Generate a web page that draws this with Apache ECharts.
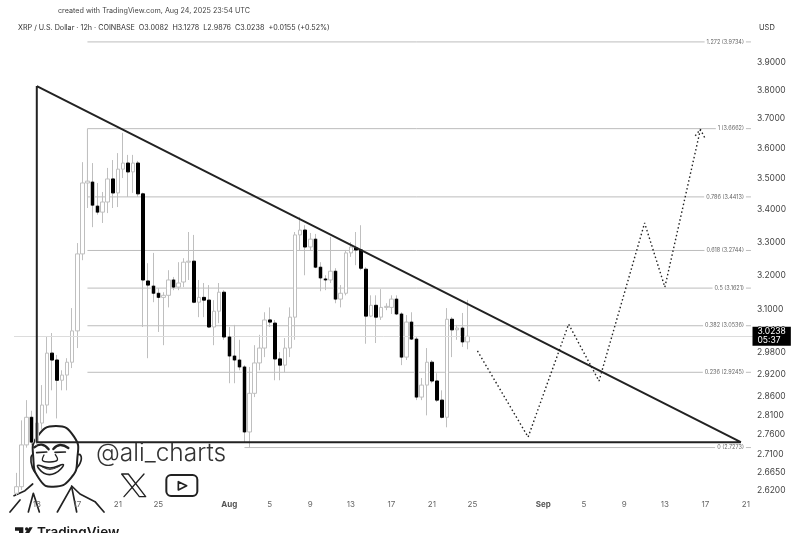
<!DOCTYPE html>
<html><head><meta charset="utf-8">
<style>html,body{margin:0;padding:0;background:#fff;overflow:hidden}#c{width:800px;height:533px}</style>
<script src="https://cdn.jsdelivr.net/npm/echarts@6/dist/echarts.min.js"></script>
</head><body><div id="c"></div>
<script>
// 12h candles from Jul 11 2025: [open, close, low, high]
const candles = [
[2.614,2.630,2.608,2.664],[2.630,2.734,2.622,2.797],[2.734,2.805,2.727,2.850],[2.805,2.741,2.733,2.822],
[2.741,2.790,2.733,2.850],[2.790,2.837,2.772,2.890],[2.837,2.977,2.815,3.022],[2.977,2.958,2.876,3.033],
[2.958,2.903,2.802,2.972],[2.903,2.917,2.876,2.930],[2.917,2.952,2.876,2.963],[2.952,3.039,2.936,3.104],
[3.039,3.264,2.991,3.297],[3.264,3.486,3.245,3.554],[3.486,3.492,3.406,3.554],[3.489,3.415,3.346,3.551],
[3.412,3.393,3.385,3.486],[3.393,3.425,3.359,3.457],[3.425,3.499,3.390,3.535],[3.499,3.454,3.406,3.561],
[3.454,3.531,3.409,3.584],[3.531,3.551,3.502,3.652],[3.551,3.522,3.441,3.578],[3.522,3.551,3.454,3.578],
[3.551,3.451,3.441,3.558],[3.451,3.186,3.050,3.455],[3.183,3.171,2.963,3.236],[3.168,3.147,3.121,3.267],
[3.147,3.135,3.036,3.162],[3.135,3.141,2.999,3.150],[3.141,3.186,3.106,3.215],[3.186,3.165,3.156,3.195],
[3.165,3.177,3.156,3.239],[3.180,3.239,3.165,3.251],[3.239,3.242,3.186,3.331],[3.242,3.121,3.118,3.322],
[3.121,3.135,3.078,3.186],[3.135,3.127,3.078,3.177],[3.127,3.050,3.047,3.171],[3.050,3.095,2.999,3.127],
[3.095,3.150,3.061,3.177],[3.150,3.022,3.014,3.156],[3.022,2.969,2.895,3.050],[2.969,2.958,2.895,3.056],
[2.958,2.939,2.930,3.014],[2.939,2.767,2.741,2.944],[2.767,2.868,2.728,2.939],[2.868,2.950,2.858,2.999],
[2.950,2.991,2.930,3.028],[2.991,3.070,2.966,3.092],[3.070,3.064,3.050,3.106],[3.061,2.961,2.903,3.070],
[2.961,2.944,2.903,2.980],[2.944,2.991,2.925,3.019],[2.991,3.078,2.966,3.106],[3.078,3.322,3.014,3.331],
[3.322,3.337,3.276,3.378],[3.337,3.285,3.200,3.352],[3.285,3.309,3.276,3.328],[3.309,3.224,3.221,3.325],
[3.224,3.192,3.153,3.239],[3.189,3.186,3.156,3.200],[3.186,3.212,3.177,3.316],[3.212,3.130,3.118,3.221],
[3.130,3.147,3.106,3.171],[3.147,3.267,3.141,3.276],[3.267,3.285,3.255,3.300],[3.282,3.276,3.230,3.331],
[3.276,3.221,3.215,3.352],[3.218,3.081,3.003,3.224],[3.081,3.112,3.078,3.141],[3.112,3.078,3.005,3.141],
[3.078,3.106,3.070,3.159],[3.106,3.109,3.098,3.118],[3.106,3.130,3.087,3.141],[3.130,3.087,3.084,3.141],
[3.087,2.966,2.944,3.092],[2.966,3.064,2.958,3.084],[3.064,3.016,3.014,3.092],[3.016,2.858,2.850,3.022],
[2.858,2.890,2.850,2.909],[2.890,2.952,2.810,2.991],[2.952,2.901,2.895,2.958],[2.901,2.850,2.845,2.922],
[2.850,2.805,2.802,2.876],[2.805,3.072,2.779,3.104],[3.072,3.042,2.966,3.078],[3.042,3.047,3.014,3.056],
[3.047,3.008,2.994,3.090],[3.0082,3.0238,2.9876,3.1278]
];
const barCount = 146;
const tickIndex = [4,12,20,28,42,50,58,66,74,82,90,104,112,120,128,136,144];
const tickLabels = ['13','17','21','25','Aug','5','9','13','17','21','25','Sep','5','9','13','17','21'];
const priceTicks = [3.9,3.8,3.7,3.6,3.5,3.4,3.3,3.2,3.1,3.04,2.98,2.92,2.86,2.81,2.76,2.71,2.665,2.62];
const fibValues = [3.9734,3.6662,3.4413,3.2744,3.1621,3.0536,2.9245,2.7273];
const fibLabels = ['1.272 (3.9734)','1 (3.6662)','0.786 (3.4413)','0.618 (3.2744)','0.5 (3.1621)','0.382 (3.0536)','0.236 (2.9245)','0 (2.7273)'];
const fibStart = [14,14,14,14,14,14,14,45];
const trianglePts = [[4,3.814],[4,2.741],[143,2.741],[4,3.814]];
const forecastPts = [[91,2.983],[101,2.754],[109,3.058],[115,2.901],[124,3.359],[128,3.165],[135,3.662]];
const arrowPts = [[134,3.642],[135,3.664],[136,3.631]];
const lastPrice = 3.0238;
const countdown = '05:37';

const categories = [];
for (let i = 0; i < barCount; i++) {
  categories.push(new Date(Date.UTC(2025, 6, 11, i * 12)).toISOString().slice(0, 13));
}
const tickMap = {};
tickIndex.forEach((ix, k) => { tickMap[categories[ix]] = tickLabels[k]; });
const FONT = 'Inter, Roboto, sans-serif';
const lineS = (o) => Object.assign({type:'line',symbol:'none',silent:true,animation:false,z:5}, o);

const downOnly = candles.map(c => c[1] < c[0] ? [c[0], c[1], c[1], c[0]] : ['-','-','-','-']);

const fibSeries = fibValues.map((v, k) => ({
  type:'line', silent:true, animation:false, z:3, symbol:'circle', symbolSize:0, showSymbol:true, showAllSymbol:true,
  lineStyle:{color:'#bdbdbd',width:1},
  data:[
    [fibStart[k], v],
    {value:[144, v], label:{show:true, position:'left', distance:0, formatter:fibLabels[k],
      fontFamily:FONT, fontSize:5.5, color:'#666', backgroundColor:'#fff', padding:[1,2]}},
    [145, v]
  ]
}));

const g = (type, shape, style, extra) => Object.assign({type, shape, style}, extra || {});
const ink = '#222';
const st = (lw, fill) => ({stroke:ink, lineWidth:lw, fill:fill || 'none', lineJoin:'round', lineCap:'round'});

const option = {
  animation:false, backgroundColor:'#fff',
  grid:{left:14,right:46.5,top:20,bottom:35},
  xAxis:{type:'category',data:categories,boundaryGap:true,
    axisLine:{show:false},axisTick:{show:false},splitLine:{show:false},
    axisLabel:{interval:(i,v)=>v in tickMap, margin:3, fontFamily:FONT, fontSize:8, color:'#666', hideOverlap:false,
      formatter:v=>{const t=tickMap[v]; return /[A-Za-z]/.test(t)?'{b|'+t+'}':t;},
      rich:{b:{fontFamily:FONT,fontSize:8,fontWeight:'bold',color:'#555'}}}},
  yAxis:{type:'log',logBase:10,position:'right',min:2.6026,max:4.055,scale:true,
    axisLine:{show:false},axisTick:{show:false},splitLine:{show:false},minorTick:{show:false},
    axisLabel:{customValues:priceTicks,margin:3.5,fontFamily:FONT,fontSize:8.5,color:'#444',formatter:v=>(+v).toFixed(4)}},
  series:[
    ...fibSeries,
    {type:'candlestick',data:candles,barWidth:4,silent:true,z:4,
      itemStyle:{color:'#fff',color0:'#fff',borderColor:'#bfbfbf',borderColor0:'#bfbfbf',borderWidth:1},
      markLine:{silent:true,symbol:'none',animation:false,precision:4,
        lineStyle:{color:'#dcdcdc',width:1,type:'solid'},
        label:{position:'end',distance:-1,formatter:lastPrice.toFixed(4)+'\n'+countdown,fontFamily:FONT,fontSize:8.5,lineHeight:9,
          color:'#fff',backgroundColor:'#000',padding:[1,5,0,5],align:'left',verticalAlign:'middle'},
        data:[{yAxis:lastPrice}]}},
    {type:'candlestick',data:downOnly,barWidth:3,silent:true,z:6,
      itemStyle:{color:'#000',color0:'#000',borderColor:'#000',borderColor0:'#000',borderWidth:1}},
    lineS({data:[[14,3.6662],[14,3.4413]],lineStyle:{color:'#bdbdbd',width:1},z:3}),
    lineS({data:trianglePts,lineStyle:{color:'#222',width:2},z:8}),
    lineS({data:forecastPts,lineStyle:{color:'#222',width:1.4,type:[1.5,2.5]},z:8}),
    lineS({data:arrowPts,lineStyle:{color:'#222',width:1.4,type:[1.5,2.5]},z:8})
  ],
  graphic:[
    {type:'text',left:58,top:7,z:50,style:{text:'created with TradingView.com, Aug 24, 2025 23:54 UTC',font:'7.2px '+FONT,fill:'#444'}},
    {type:'text',left:18,top:24,z:50,style:{text:'XRP / U.S. Dollar · 12h · COINBASE  O3.0082  H3.1278  L2.9876  C3.0238  +0.0155 (+0.52%)',font:'7.2px '+FONT,fill:'#333'}},
    {type:'text',left:759,top:24,z:50,style:{text:'USD',font:'7.5px '+FONT,fill:'#333'}},
    {type:'text',left:96,top:441,z:50,style:{text:'@ali_charts',font:'300 24.5px '+FONT,fill:'#333'}},
    {type:'text',left:37,top:526,z:50,style:{text:'TradingView',font:'600 13.5px '+FONT,fill:'#1a1a1a'}},
    {type:'group',x:0,y:330,scaleX:1/3,scaleY:1/3,z:40,children:[
      // torso
      g('polyline',{points:[[42,497],[75,482],[98,462]]},st(5)),
      g('polyline',{points:[[215,468],[240,492],[285,515],[312,546]]},st(5)),
      g('polyline',{points:[[85,546],[100,490],[118,546]]},st(5)),
      g('polyline',{points:[[172,546],[215,470],[230,546]]},st(5)),
      g('polyline',{points:[[30,546],[60,510]]},st(5)),
      // ears
      g('polygon',{points:[[228,378],[242,376],[240,400],[222,418]],smooth:0.5},st(5,'#fff')),
      g('polygon',{points:[[104,372],[93,382],[98,415],[110,428]],smooth:0.5},st(5,'#fff')),
      // head
      g('polygon',{points:[[100,385],[112,320],[168,288],[222,320],[232,385],[212,445],[160,470],[120,450]],smooth:0.55},st(6,'#fff')),
      // brows
      g('polyline',{points:[[103,352],[125,344],[146,358]],smooth:0.5},st(7)),
      g('polyline',{points:[[160,357],[180,345],[205,354]],smooth:0.5},st(7)),
      // eyes
      g('polyline',{points:[[110,368],[140,366]]},st(5)),
      g('polyline',{points:[[165,367],[196,366]]},st(5)),
      // nose
      g('polyline',{points:[[132,375],[128,392],[150,396],[172,390],[166,374]],smooth:0.4},st(4)),
      // mouth
      g('polygon',{points:[[113,406],[150,414],[190,404],[165,430],[132,430]],smooth:0.4},st(5,'#fff')),
      g('polyline',{points:[[125,410],[150,418],[180,408]],smooth:0.4},st(3)),
      // X logo
      g('polygon',{points:[[365,432],[385,432],[437,500],[418,500]]},st(4)),
      g('line',{x1:432,y1:432,x2:372,y2:500},st(4)),
      // video icon
      g('rect',{x:499,y:435,width:93,height:63,r:14},st(6)),
      g('polygon',{points:[[535,455],[535,480],[560,467]]},st(5)),
      // TradingView mark
      g('polygon',{points:[[45,592],[70,592],[70,612],[57,612],[57,602],[45,602]]},{fill:'#1a1a1a'}),
      g('circle',{cx:80,cy:597,r:5},{fill:'#1a1a1a'}),
      g('polygon',{points:[[88,592],[98,592],[86,612],[73,612]]},{fill:'#1a1a1a'})
    ]}
  ]
};
const chart = echarts.init(document.getElementById('c'));
chart.setOption(option);
</script>
</body></html>
